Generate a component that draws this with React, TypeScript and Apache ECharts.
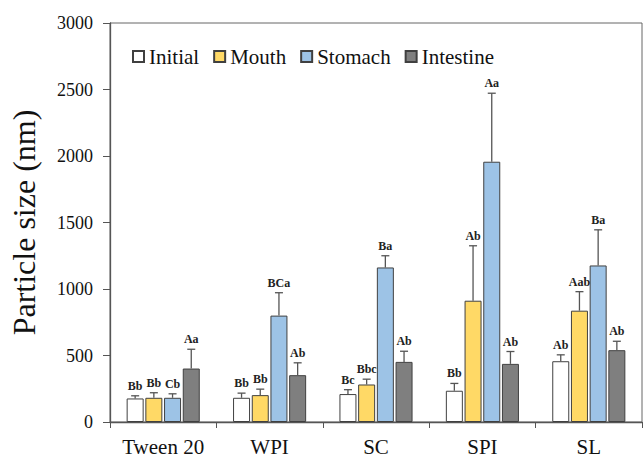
import React, { useEffect, useRef } from "react";
import * as echarts from "echarts";

const categories = ["Tween 20", "WPI", "SC", "SPI", "SL"];
const stageNames = ["Initial", "Mouth", "Stomach", "Intestine"];

const initialValues = [177, 182, 210, 235, 457];
const initialErrors = [20, 35, 33, 55, 48];
const initialLetters = ["Bb", "Bb", "Bc", "Bb", "Ab"];

const mouthValues = [182, 202, 282, 912, 837];
const mouthErrors = [38, 45, 40, 413, 143];
const mouthLetters = ["Bb", "Bb", "Bbc", "Ab", "Aab"];

const stomachValues = [182, 800, 1162, 1957, 1177];
const stomachErrors = [30, 172, 88, 515, 268];
const stomachLetters = ["Cb", "BCa", "Ba", "Aa", "Ba"];

const intestineValues = [402, 352, 452, 437, 540];
const intestineErrors = [145, 93, 80, 93, 67];
const intestineLetters = ["Aa", "Ab", "Ab", "Ab", "Ab"];

const yTicks = [0, 500, 1000, 1500, 2000, 2500, 3000];

const FONT = "Liberation Serif";

export default function App() {
  const ref = useRef<HTMLDivElement>(null);

  useEffect(() => {
    document.body.style.margin = "0";
    if (!ref.current) return;
    const chart = echarts.init(ref.current, null, { renderer: "svg" });

    const values = [initialValues, mouthValues, stomachValues, intestineValues];
    const errors = [initialErrors, mouthErrors, stomachErrors, intestineErrors];
    const letters = [initialLetters, mouthLetters, stomachLetters, intestineLetters];
    const colors = ["#FFFFFF", "#FFD966", "#9DC3E6", "#7F7F7F"];
    const bw = 17;
    const gap = 1.7;

    const barSeries = stageNames.map((name, k) => ({
      name,
      type: "bar",
      data: values[k],
      barWidth: bw,
      barGap: "10%",
      itemStyle: { color: colors[k], borderColor: "#404040", borderWidth: 1 },
      z: 2,
    }));

    const errSeries = stageNames.map((name, k) => ({
      name: name + "-err",
      type: "custom",
      z: 5,
      silent: true,
      data: values[k].map((v, i) => [i, v, errors[k][i]]),
      renderItem: (params: any, api: any) => {
        const idx = api.value(0);
        const val = api.value(1);
        const err = api.value(2);
        const base = api.coord([idx, val]);
        const top = api.coord([idx, val + err]);
        const x = base[0] + (k - 1.5) * (bw + gap);
        const st = { stroke: "#555555", lineWidth: 1.3 };
        return {
          type: "group",
          children: [
            { type: "line", shape: { x1: x, y1: base[1], x2: x, y2: top[1] }, style: st },
            { type: "line", shape: { x1: x - 4, y1: top[1], x2: x + 4, y2: top[1] }, style: st },
            {
              type: "text",
              style: {
                text: letters[k][params.dataIndex],
                x,
                y: top[1] - 4,
                align: "center",
                verticalAlign: "bottom",
                fontFamily: FONT,
                fontSize: 12,
                fontWeight: "bold",
                fill: "#222222",
              },
            },
          ],
        };
      },
    }));

    chart.setOption({
      animation: false,
      backgroundColor: "#FFFFFF",
      textStyle: { fontFamily: FONT },
      grid: {
        left: 110,
        right: 2,
        top: 23,
        bottom: 39,
        show: true,
        borderColor: "#666666",
        borderWidth: 1,
      },
      legend: {
        data: stageNames,
        left: 127,
        top: 41,
        icon: "rect",
        itemWidth: 11,
        itemHeight: 11,
        itemGap: 14,
        textStyle: { fontFamily: FONT, fontSize: 21, color: "#111111" },
      },
      xAxis: {
        type: "category",
        data: categories,
        axisLine: { lineStyle: { color: "#555555", width: 1.3 } },
        axisTick: { show: true, length: 6, lineStyle: { color: "#555555" } },
        axisLabel: { interval: 0, fontFamily: FONT, fontSize: 21, color: "#111111", margin: 14 },
      },
      yAxis: {
        type: "value",
        min: yTicks[0],
        max: yTicks[yTicks.length - 1],
        interval: yTicks[1] - yTicks[0],
        name: "Particle size (nm)",
        nameLocation: "middle",
        nameGap: 70,
        nameTextStyle: { fontFamily: FONT, fontSize: 32, color: "#111111" },
        axisLine: { show: true, lineStyle: { color: "#555555", width: 1.3 } },
        axisTick: { show: true, length: 7, lineStyle: { color: "#555555" } },
        splitLine: { show: false },
        axisLabel: {
          fontFamily: FONT,
          fontSize: 18,
          color: "#111111",
          margin: 17,
          formatter: (v: number) => String(v),
        },
      },
      series: [...barSeries, ...errSeries],
    });

    return () => chart.dispose();
  }, []);

  return <div ref={ref} style={{ width: 644, height: 461 }} />;
}
